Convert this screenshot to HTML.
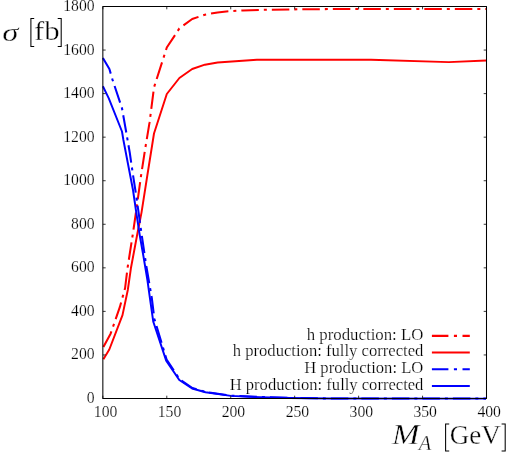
<!DOCTYPE html>
<html><head><meta charset="utf-8"><title>plot</title>
<style>
html,body{margin:0;padding:0;background:#fff;}
body{width:510px;height:454px;overflow:hidden;font-family:"Liberation Serif",serif;}
svg{display:block;will-change:transform;opacity:0.999;}
text{font-family:"Liberation Serif",serif;fill:#000;}
.tk text{font-size:15.7px;stroke:#fff;stroke-width:0.2px;}
.big text{stroke:#fff;stroke-width:0.35px;}
.lg{font-size:16px;stroke:#fff;stroke-width:0.22px;}
</style></head><body>
<svg width="510" height="454" viewBox="0 0 510 454">
<rect width="510" height="454" fill="#fff"/>
<g fill="none" stroke-linejoin="round" stroke-linecap="butt">
<polyline points="103.4,359.3 109.3,349.5 122.5,315.1 127.8,290.0 130.9,268.3 137.5,233.0 141.5,212.6 147.4,175.0 154.0,133.5 166.8,94.0 179.4,78.0 192.2,69.0 204.9,64.7 217.6,62.5 256.9,59.8 371.0,59.8 448.8,62.1 486.3,60.5" stroke="#ff0000" stroke-width="1.95"/>
<polyline points="103.4,346.9 110.6,333.7 119.8,307.2 125.1,288.0 127.5,268.3 133.0,233.0 137.5,201.5 140.8,177.3 145.2,148.7 149.6,122.2 154.0,87.4 166.8,47.5 179.4,28.4 192.2,19.0 204.9,14.7 217.6,12.4 230.4,11.1 243.1,10.4 260.0,9.9 300.0,9.3 340.0,9.0 486.3,8.9" stroke="#ff0000" stroke-width="2.05" stroke-dasharray="17.5 5 3 5"/>
<polyline points="102.9,86.3 108.8,98.4 122.0,131.5 123.4,140.0 128.0,164.0 133.0,190.0 136.2,212.0 139.7,235.0 143.4,256.0 147.4,280.0 150.2,300.0 153.3,321.8 166.2,360.6 179.3,380.0 192.1,388.5 205.5,392.3 230.9,395.9 260.0,397.2 290.0,398.0 330.0,398.5 486.0,398.6" stroke="#0000ff" stroke-width="1.95"/>
<polyline points="102.9,58.1 109.4,69.0 112.4,79.4 122.0,108.3 126.4,133.2 129.8,153.0 133.0,175.0 136.4,197.0 138.6,212.6 140.8,228.7 146.3,266.0 151.8,298.0 154.4,319.0 166.6,359.5 179.6,379.3 192.4,388.0 205.5,391.9 230.9,395.7 260.0,397.0 290.0,397.9 330.0,398.5 486.0,398.6" stroke="#0000ff" stroke-width="2.05" stroke-dasharray="17.5 5 3 5"/>
</g>
<g stroke="#222" stroke-width="0.9"><line x1="102.85" y1="398.50" x2="105.64999999999999" y2="398.50"/><line x1="486.5" y1="398.50" x2="483.7" y2="398.50"/><line x1="102.85" y1="354.94" x2="105.64999999999999" y2="354.94"/><line x1="486.5" y1="354.94" x2="483.7" y2="354.94"/><line x1="102.85" y1="311.39" x2="105.64999999999999" y2="311.39"/><line x1="486.5" y1="311.39" x2="483.7" y2="311.39"/><line x1="102.85" y1="267.83" x2="105.64999999999999" y2="267.83"/><line x1="486.5" y1="267.83" x2="483.7" y2="267.83"/><line x1="102.85" y1="224.28" x2="105.64999999999999" y2="224.28"/><line x1="486.5" y1="224.28" x2="483.7" y2="224.28"/><line x1="102.85" y1="180.72" x2="105.64999999999999" y2="180.72"/><line x1="486.5" y1="180.72" x2="483.7" y2="180.72"/><line x1="102.85" y1="137.17" x2="105.64999999999999" y2="137.17"/><line x1="486.5" y1="137.17" x2="483.7" y2="137.17"/><line x1="102.85" y1="93.61" x2="105.64999999999999" y2="93.61"/><line x1="486.5" y1="93.61" x2="483.7" y2="93.61"/><line x1="102.85" y1="50.06" x2="105.64999999999999" y2="50.06"/><line x1="486.5" y1="50.06" x2="483.7" y2="50.06"/><line x1="102.85" y1="6.50" x2="105.64999999999999" y2="6.50"/><line x1="486.5" y1="6.50" x2="483.7" y2="6.50"/><line x1="102.85" y1="398.5" x2="102.85" y2="395.7"/><line x1="102.85" y1="6.5" x2="102.85" y2="9.3"/><line x1="166.79" y1="398.5" x2="166.79" y2="395.7"/><line x1="166.79" y1="6.5" x2="166.79" y2="9.3"/><line x1="230.73" y1="398.5" x2="230.73" y2="395.7"/><line x1="230.73" y1="6.5" x2="230.73" y2="9.3"/><line x1="294.67" y1="398.5" x2="294.67" y2="395.7"/><line x1="294.67" y1="6.5" x2="294.67" y2="9.3"/><line x1="358.62" y1="398.5" x2="358.62" y2="395.7"/><line x1="358.62" y1="6.5" x2="358.62" y2="9.3"/><line x1="422.56" y1="398.5" x2="422.56" y2="395.7"/><line x1="422.56" y1="6.5" x2="422.56" y2="9.3"/><line x1="486.50" y1="398.5" x2="486.50" y2="395.7"/><line x1="486.50" y1="6.5" x2="486.50" y2="9.3"/></g>
<rect x="102.85" y="6.5" width="383.65" height="392.0" fill="none" stroke="#000" stroke-width="1.04" stroke-linejoin="round"/>
<g class="tk"><text x="94.6" y="402.7" text-anchor="end">0</text><text x="94.6" y="359.2" text-anchor="end">200</text><text x="94.6" y="315.7" text-anchor="end">400</text><text x="94.6" y="272.1" text-anchor="end">600</text><text x="94.6" y="228.6" text-anchor="end">800</text><text x="94.6" y="185.1" text-anchor="end">1000</text><text x="94.6" y="141.6" text-anchor="end">1200</text><text x="94.6" y="98.0" text-anchor="end">1400</text><text x="94.6" y="54.5" text-anchor="end">1600</text><text x="94.6" y="11.0" text-anchor="end">1800</text><text x="105.6" y="417.2" text-anchor="middle">100</text><text x="169.5" y="417.2" text-anchor="middle">150</text><text x="233.4" y="417.2" text-anchor="middle">200</text><text x="297.4" y="417.2" text-anchor="middle">250</text><text x="361.3" y="417.2" text-anchor="middle">300</text><text x="425.2" y="417.2" text-anchor="middle">350</text><text x="489.2" y="417.2" text-anchor="middle">400</text></g>
<g><text x="306.7" y="339.8" textLength="116.7" lengthAdjust="spacingAndGlyphs" class="lg">h production: LO</text><line x1="431.9" y1="335.85" x2="469.8" y2="335.85" stroke="#ff0000" stroke-width="2.05" stroke-dasharray="16.5 5.5 3.1 5.5"/><text x="232.7" y="356.4" textLength="190.7" lengthAdjust="spacingAndGlyphs" class="lg">h production: fully corrected</text><line x1="431.9" y1="352.5" x2="469.8" y2="352.5" stroke="#ff0000" stroke-width="2.05"/><text x="304.2" y="373.0" textLength="119.2" lengthAdjust="spacingAndGlyphs" class="lg">H production: LO</text><line x1="431.9" y1="369.2" x2="469.8" y2="369.2" stroke="#0000ff" stroke-width="2.05" stroke-dasharray="16.5 5.5 3.1 5.5"/><text x="229.7" y="389.7" textLength="193.7" lengthAdjust="spacingAndGlyphs" class="lg">H production: fully corrected</text><line x1="431.9" y1="385.9" x2="469.8" y2="385.9" stroke="#0000ff" stroke-width="2.05"/></g>
<g class="big">
<text transform="translate(2.2,40.5) scale(1.13,0.86)" font-size="29" font-style="italic">σ</text>
<text transform="translate(34.0,40) scale(1.09,1)" font-size="28.3">fb</text>
<path d="M34.2,18.5 H30.9 V46.4 H34.2 M57.7,18.5 H61.2 V46.4 H57.7" fill="none" stroke="#000" stroke-width="1.05"/>
<text transform="translate(391.9,444.4) scale(1.16,1)" font-size="28.5" font-style="italic">M</text>
<text x="418.8" y="449.5" font-size="20.5" font-style="italic">A</text>
<text transform="translate(449.8,444.4) scale(0.955,1)" font-size="28.3">GeV</text>
<path d="M449.2,423.9 H445.6 V451 H449.2 M501.6,423.9 H505.2 V451 H501.6" fill="none" stroke="#000" stroke-width="1.05"/>
</g>
</svg>
</body></html>
